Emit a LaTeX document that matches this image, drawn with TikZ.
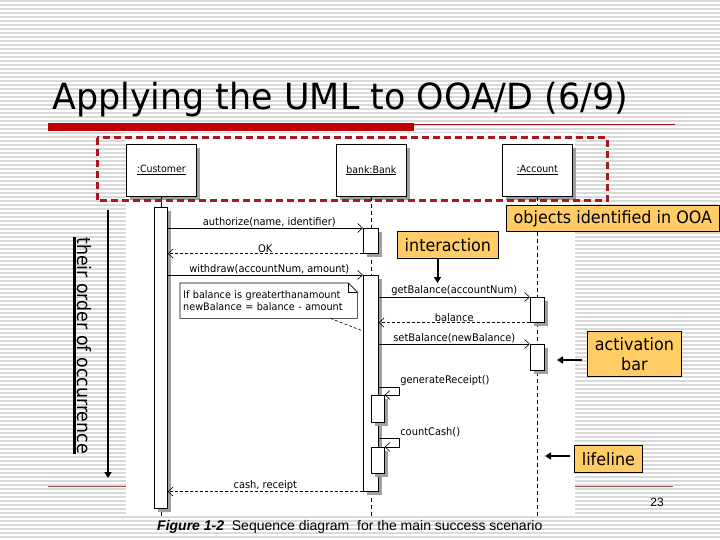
\documentclass[tikz,border=0pt]{standalone}
\usepackage{fontspec}
\setmainfont{Liberation Sans}
\newfontfamily\tah{DejaVu Sans}[FakeStretch=0.94]
\newfontfamily\tahtitle{DejaVu Sans}[FakeStretch=0.97]
\usetikzlibrary{arrows.meta,shadows,calc}
\definecolor{annfill}{HTML}{FFCC66}
\definecolor{darkred}{HTML}{A8191F}
\definecolor{barred}{HTML}{C00000}
\definecolor{footred}{HTML}{A04848}
\definecolor{stripe}{HTML}{DADADA}
\definecolor{shadowgray}{HTML}{A0A0A0}
\begin{document}
\begin{tikzpicture}[x=1pt,y=-1pt,
  shad/.style={drop shadow={shadow xshift=4pt,shadow yshift=-4pt,fill=shadowgray,opacity=1}},
  headbox/.style={draw,line width=0.6pt,fill=white,shad,minimum width=70pt,minimum height=52pt,
    anchor=north west,inner sep=0pt,font=\tah\fontsize{10}{12}\selectfont},
  actbar/.style={draw,line width=0.6pt,fill=white,shad,anchor=north west,inner sep=0pt},
  lbl/.style={font=\tah\fontsize{10.5}{12}\selectfont,inner sep=1pt},
  msg/.style={line width=0.6pt,-{Straight Barb[length=5pt,width=9pt,line width=0.6pt]}},
  ret/.style={msg,dash pattern=on 3pt off 2pt},
  lifeline/.style={line width=0.7pt,dash pattern=on 4pt off 3pt},
  ann/.style={draw,line width=0.8pt,fill=annfill,anchor=north west,inner sep=0pt,
    font=\tah\fontsize{17}{20}\selectfont,align=center},
  annarrow/.style={line width=2pt,-{Triangle[length=6pt,width=7pt]}}
]
\useasboundingbox (0,0) rectangle (720,540);
% background stripes
\fill[white] (0,0) rectangle (720,540);
\foreach \yy in {1,5,...,539} \draw[stripe,line width=1.4pt] (0,\yy) -- (720,\yy);

% title
\node[anchor=base west,inner sep=0pt,font=\tahtitle\fontsize{36}{36}\selectfont] (title) at (52,110) {Applying the UML to OOA/D (6/9)};
\fill[barred] (48,123) rectangle (414,131);
\draw[darkred,line width=0.8pt] (414,124.5) -- (675,124.5);

% footer line
\draw[footred,line width=0.9pt] (48,486.5) -- (673,486.5);

% white figure area
\fill[white] (126,133) rectangle (575,515);

% lifeline heads
\node[headbox] (cust) at (126,144) {\underline{:Customer}};
\node[headbox] (bank) at (336,144) {\underline{bank:Bank}};
\node[headbox] (acct) at (502,144) {\underline{:Account}};

\path (cust.south) ++(0,319) coordinate (custend);
\path (bank.south) ++(0,319) coordinate (bankend);
\path (acct.south) ++(0,319) coordinate (acctend);
\draw[line width=0.7pt] (cust.south) -- (custend);
\draw[lifeline] (bank.south) -- (bankend);
\draw[lifeline] (acct.south) -- (acctend);

% activation bars
\node[actbar,minimum width=13pt,minimum height=301pt] (cbar) at (154,207) {};
\node[actbar,minimum width=15pt,minimum height=25pt] (bbar1) at (363,228) {};
\node[actbar,minimum width=15pt,minimum height=216pt] (bbar2) at (363,275) {};
\node[actbar,minimum width=14pt,minimum height=25pt] (abar1) at (530,297) {};
\node[actbar,minimum width=14pt,minimum height=26pt] (abar2) at (530,344) {};
\node[actbar,minimum width=13pt,minimum height=27pt] (nest1) at (371,395) {};
\node[actbar,minimum width=13pt,minimum height=26pt] (nest2) at (371,447) {};

% messages
\draw[msg] (cbar.east |- bbar1.north) -- node[lbl,above,xshift=4pt] {authorize(name, identifier)} (bbar1.north west);
\draw[ret] (bbar1.south west) -- node[lbl,above] {OK} (cbar.east |- bbar1.south);
\draw[msg] (cbar.east |- bbar2.north) -- node[lbl,above,xshift=4pt] {withdraw(accountNum, amount)} (bbar2.north west);
\draw[msg] (bbar2.east |- abar1.north) -- node[lbl,above] {getBalance(accountNum)} (abar1.north west);
\draw[ret] (abar1.south west) -- node[lbl,above] {balance} (bbar2.east |- abar1.south);
\draw[msg] (bbar2.east |- abar2.north) -- node[lbl,above] {setBalance(newBalance)} (abar2.north west);
\coordinate (gr1) at (378,387);
\coordinate (cc1) at (378,438);
\draw[msg] (gr1) -- ++(21,0) node[lbl,anchor=south west] {generateReceipt()} |- (nest1.north east);
\draw[msg] (cc1) -- ++(21,0) node[lbl,anchor=south west] {countCash()} |- (nest2.north east);
\draw[ret] (bbar2.south west) -- node[lbl,above] {cash, receipt} (cbar.east |- bbar2.south);

% note
\node[anchor=north west,text width=171pt,minimum height=35pt,inner sep=0pt,inner xsep=3pt,
  align=left,font=\tah\fontsize{10.3}{12.5}\selectfont] (note) at (180,283)
  {If balance is greaterthanamount\\newBalance = balance - amount};
\draw[line width=0.6pt] (note.north west) -- ($(note.north east)+(-9,0)$) -- ($(note.north east)+(0,9)$)
  -- (note.south east) -- (note.south west) -- cycle;
\draw[line width=0.6pt] ($(note.north east)+(-9,0)$) -- ($(note.north east)+(-9,9)$) -- ($(note.north east)+(0,9)$);
\coordinate (noteend) at (363,331);
\draw[line width=0.6pt,dash pattern=on 3pt off 2pt] ($(note.south east)+(-27,0)$) -- (noteend);

% red dashed frame
\draw[darkred,line width=3pt,dash pattern=on 7pt off 4pt] (97,138) rectangle (607,201);

% annotations
\node[ann,minimum width=213pt,minimum height=26pt] (objs) at (506,205) {objects identified in OOA};
\node[ann,minimum width=101pt,minimum height=27pt] (inter) at (397,231) {interaction};
\node[ann,minimum width=94pt,minimum height=45pt] (actb) at (587,331) {activation\\bar};
\node[ann,minimum width=68pt,minimum height=27pt] (lifel) at (574,445) {lifeline};

\coordinate (intend) at (437.5,283);
\draw[annarrow] (intend |- inter.south) -- (intend);
\coordinate (actend) at (557,360);
\draw[annarrow] ([xshift=-5pt]actb.west |- actend) -- (actend);
\coordinate (lifend) at (545,456);
\draw[annarrow] ([xshift=-4pt]lifel.west |- lifend) -- (lifend);

% order of occurrence
\node[rotate=-90,anchor=base west,inner sep=0pt,font=\tah\fontsize{18.5}{20}\selectfont] (order) at (77,237) {their order of occurrence};
\draw[line width=2.2pt] ([xshift=-2.5pt]order.base west) -- ([xshift=-2.5pt]order.base east);
\coordinate (ordtop) at (108,210);
\coordinate (ordbot) at (108,478);
\draw[annarrow] (ordtop) -- (ordbot);

% caption and page number
\node[anchor=base west,inner sep=0pt,font=\fontsize{14}{16}\selectfont] (cap) at (157,530)
  {\textbf{\textit{Figure 1-2}}\ \ Sequence diagram\ \ for the main success scenario};
\node[font=\fontsize{12}{14}\selectfont,inner sep=0pt] (pg) at (657,502) {23};
\end{tikzpicture}
\end{document}
